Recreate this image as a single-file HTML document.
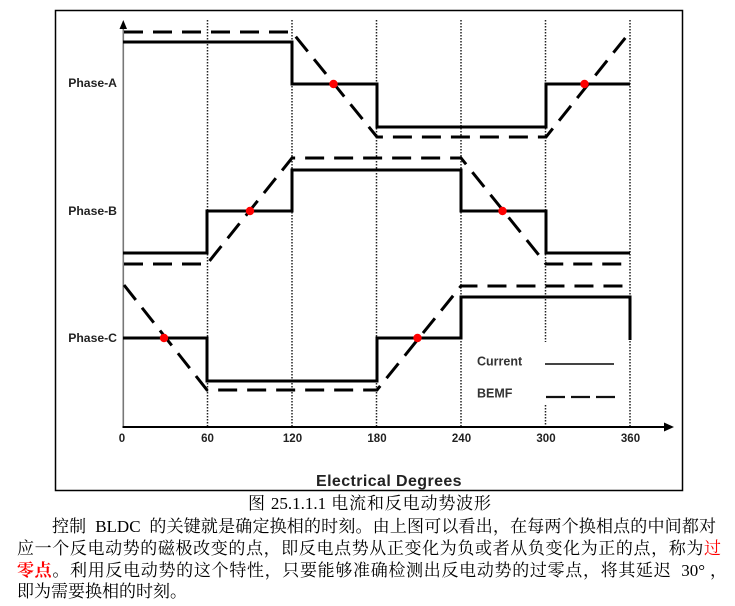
<!DOCTYPE html>
<html>
<head>
<meta charset="utf-8">
<style>
  html,body{margin:0;padding:0;background:#fff;}
  body{width:735px;height:606px;position:relative;overflow:hidden;}
  svg{position:absolute;left:0;top:0;}
  .t{position:absolute;white-space:nowrap;font-family:"Liberation Serif","Noto Serif CJK SC",serif;font-size:17px;line-height:22px;color:#000;}
  .j{text-align:justify;text-align-last:justify;white-space:normal;}
  .r{color:#f00;}
  .rb{color:#f00;font-weight:bold;}
</style>
</head>
<body>
<svg width="735" height="606" viewBox="0 0 735 606" xmlns="http://www.w3.org/2000/svg">
  <!-- frame -->
  <rect x="55.5" y="10.5" width="627" height="480" fill="none" stroke="#000" stroke-width="1.5"/>
  <!-- dotted verticals -->
  <g stroke="#222" stroke-width="1.5" stroke-dasharray="1.5 1.5" fill="none">
    <line x1="207.5" y1="20" x2="207.5" y2="427"/>
    <line x1="292" y1="20" x2="292" y2="427"/>
    <line x1="376.5" y1="20" x2="376.5" y2="427"/>
    <line x1="461" y1="20" x2="461" y2="427"/>
    <line x1="545.5" y1="20" x2="545.5" y2="342"/>
    <line x1="545.5" y1="405" x2="545.5" y2="427"/>
    <line x1="630" y1="20" x2="630" y2="427"/>
  </g>
  <!-- y axis -->
  <line x1="123.3" y1="26" x2="123.3" y2="428" stroke="#777" stroke-width="1.6"/>
  <polygon points="123.3,20 119.5,29 127,29" fill="#000"/>
  <!-- x axis -->
  <line x1="122.5" y1="427" x2="666" y2="427" stroke="#000" stroke-width="2"/>
  <polygon points="674,427 664,422.5 664,431.5" fill="#000"/>

  <!-- current (solid) -->
  <g fill="none" stroke="#000" stroke-width="3" stroke-linejoin="miter">
    <path d="M123,42 H292 V84 H377 V127 H546 V84 H630"/>
    <path d="M123,253 H207 V211 H292 V170 H461 V211 H546 V253 H630"/>
    <path d="M123,338 H207 V381 H377 V338 H461 V297 H630 V340"/>
  </g>
  <!-- BEMF (dashed) -->
  <g fill="none" stroke="#000" stroke-width="3" stroke-dasharray="19 10">
    <path d="M124,32 H292 L377,137 H546 L630,32"/>
    <path d="M124,264 H207 L292,158 H461 L546,264 H630"/>
    <path d="M124,285 L207,390 H377 L461,286 H630"/>
  </g>
  <!-- zero crossings -->
  <g fill="#f00">
    <circle cx="333.5" cy="84" r="4.2"/>
    <circle cx="584.5" cy="84" r="4.2"/>
    <circle cx="250" cy="211" r="4.2"/>
    <circle cx="502.5" cy="211" r="4.2"/>
    <circle cx="164" cy="338" r="4.2"/>
    <circle cx="417.5" cy="338" r="4.2"/>
  </g>

  <!-- phase labels -->
  <g font-family="Liberation Sans, Arial, sans-serif" font-weight="bold" font-size="12.2" fill="#222" text-anchor="end">
    <text x="117" y="87">Phase-A</text>
    <text x="117" y="215">Phase-B</text>
    <text x="117" y="342">Phase-C</text>
  </g>
  <!-- tick labels -->
  <g font-family="Liberation Sans, Arial, sans-serif" font-weight="bold" font-size="11.5" fill="#222" text-anchor="middle">
    <text x="122" y="442">0</text>
    <text x="207.5" y="442">60</text>
    <text x="292.5" y="442">120</text>
    <text x="377" y="442">180</text>
    <text x="461.5" y="442">240</text>
    <text x="546" y="442">300</text>
    <text x="630.5" y="442">360</text>
  </g>
  <text x="389" y="486" font-family="Liberation Sans, Arial, sans-serif" font-weight="bold" font-size="16" letter-spacing="0.4" fill="#222" text-anchor="middle">Electrical Degrees</text>

  <!-- legend -->
  <g font-family="Liberation Sans, Arial, sans-serif" font-weight="bold" font-size="12.5" fill="#333">
    <text x="477" y="365.5">Current</text>
    <text x="477" y="397.5">BEMF</text>
  </g>
  <line x1="545" y1="364" x2="614" y2="364" stroke="#444" stroke-width="2"/>
  <line x1="546" y1="397" x2="616" y2="397" stroke="#111" stroke-width="2.2" stroke-dasharray="19 6"/>
</svg>

<div class="t j" style="left:248px;top:493px;width:243px;">图 25.1.1.1 电流和反电动势波形</div>
<div class="t j" style="left:52px;top:516px;width:664px;">控制&nbsp; BLDC&nbsp; 的关键就是确定换相的时刻。由上图可以看出，在每两个换相点的中间都对</div>
<div class="t j" style="left:17px;top:538px;width:704px;">应一个反电动势的磁极改变的点，即反电点势从正变化为负或者从负变化为正的点，称为<span class="r">过</span></div>
<div class="t j" style="left:17px;top:560px;width:710px;"><span class="rb">零点</span>。利用反电动势的这个特性，只要能够准确检测出反电动势的过零点，将其延迟&nbsp; 30° ，</div>
<div class="t" style="left:17px;top:581px;">即为需要换相的时刻。</div>
</body>
</html>
